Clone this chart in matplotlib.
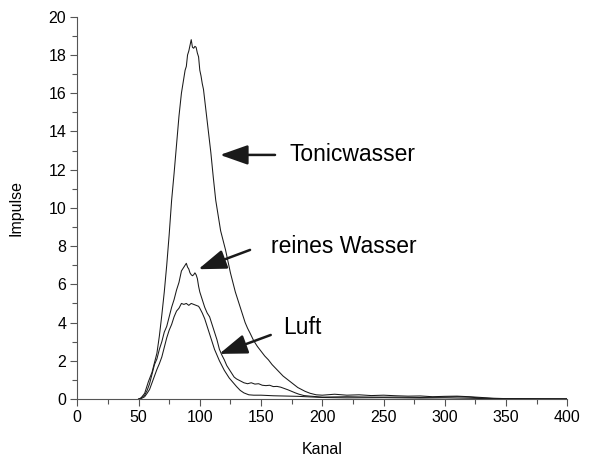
import matplotlib.pyplot as plt
from matplotlib.ticker import MultipleLocator

plt.rcParams['font.family'] = ['Liberation Sans', 'DejaVu Sans']

# Impulsspektren: Kanal -> Impulse
tonic_kanal = [50, 52, 55, 58, 61, 63, 65, 67, 69, 71, 73, 75, 77, 79, 81, 83, 85, 87,
               88, 89, 90, 91, 92, 93, 94, 95, 96, 97, 98, 99, 100, 101, 102, 103, 105,
               107, 109, 111, 113, 115, 117, 119, 121, 123, 125, 127, 129, 131, 133, 135,
               137, 139, 141, 144, 147, 150, 153, 156, 159, 162, 165, 168, 171, 174, 177,
               180, 183, 186, 190, 195, 200, 210, 220, 230, 240, 250, 260, 270, 280, 290,
               300, 310, 320, 330, 340, 350, 360, 380, 400]
tonic_impulse = [0, 0.05, 0.3, 0.9, 1.4, 1.9, 2.4, 3.3, 4.4, 5.6, 7.0, 8.6, 10.4, 11.8,
                 13.3, 14.8, 16.0, 16.8, 17.2, 17.4, 18.0, 18.2, 18.5, 18.8, 18.4, 18.35,
                 18.45, 18.4, 18.1, 17.9, 17.2, 16.9, 16.5, 16.2, 15.1, 14.0, 12.9, 11.6,
                 10.4, 9.6, 8.8, 8.3, 7.8, 7.2, 6.6, 6.1, 5.6, 5.2, 4.8, 4.4, 4.0, 3.7, 3.45,
                 3.05, 2.75, 2.5, 2.25, 2.05, 1.8, 1.6, 1.4, 1.2, 1.05, 0.9, 0.75, 0.6, 0.5,
                 0.4, 0.3, 0.22, 0.2, 0.25, 0.2, 0.22, 0.18, 0.2, 0.17, 0.15, 0.16, 0.12,
                 0.14, 0.15, 0.12, 0.08, 0.04, 0.02, 0.02, 0.01, 0.01]

wasser_kanal = [50, 52, 55, 57, 59, 61, 63, 65, 67, 69, 71, 73, 75, 77, 79, 81, 83, 85,
                87, 89, 90, 91, 92, 93, 94, 95, 96, 97, 98, 99, 100, 102, 104, 106, 108,
                110, 112, 114, 116, 118, 120, 122, 124, 126, 128, 130, 133, 136, 139, 142,
                145, 148, 151, 154, 157, 160, 163, 166, 169, 172, 175, 178, 181, 185, 190,
                200, 220, 240, 260, 280, 300, 310, 320, 330, 340, 360, 400]
wasser_impulse = [0, 0.05, 0.2, 0.45, 0.8, 1.3, 1.8, 2.1, 2.6, 3.0, 3.5, 3.8, 4.3,
                  4.8, 5.2, 5.7, 6.1, 6.7, 6.9, 7.1, 6.9, 6.8, 6.6, 6.5, 6.45, 6.5, 6.6,
                  6.5, 6.3, 5.9, 5.6, 5.2, 4.8, 4.5, 4.3, 3.9, 3.5, 3.1, 2.6, 2.3, 2.05,
                  1.75, 1.55, 1.35, 1.15, 1.05, 0.95, 0.85, 0.8, 0.85, 0.78, 0.8, 0.72,
                  0.7, 0.72, 0.65, 0.66, 0.62, 0.55, 0.48, 0.4, 0.32, 0.25, 0.18, 0.15,
                  0.1, 0.12, 0.1, 0.1, 0.08, 0.1, 0.12, 0.1, 0.05, 0.02, 0.01, 0]

luft_kanal = [51, 53, 55, 57, 59, 61, 63, 65, 67, 69, 71, 73, 75, 77, 79, 81, 83, 85,
              87, 89, 91, 93, 95, 97, 99, 100, 102, 104, 106, 108, 110, 112, 114, 116,
              118, 120, 122, 124, 126, 128, 130, 133, 136, 140, 144, 150, 160, 180, 200,
              220, 250, 280, 300, 320, 340, 400]
luft_impulse = [0, 0.05, 0.12, 0.3, 0.5, 0.85, 1.2, 1.55, 1.85, 2.2, 2.7, 3.2, 3.6,
                3.9, 4.3, 4.6, 4.75, 5.0, 4.95, 5.0, 4.9, 5.0, 4.95, 4.9, 4.85, 4.75,
                4.5, 4.2, 3.8, 3.4, 3.0, 2.6, 2.3, 2.0, 1.75, 1.5, 1.3, 1.1, 0.95, 0.8,
                0.65, 0.45, 0.32, 0.22, 0.2, 0.2, 0.17, 0.14, 0.08, 0.06, 0.07, 0.05,
                0.06, 0.04, 0.01, 0]

fig = plt.figure(figsize=(6.12, 4.58), dpi=100)
ax = fig.add_axes([0.1263, 0.1288, 0.8007, 0.8347])

for kanal, impulse in [(tonic_kanal, tonic_impulse),
                       (wasser_kanal, wasser_impulse),
                       (luft_kanal, luft_impulse)]:
    ax.plot(kanal, impulse, color='#1a1a1a', lw=0.75)

ax.set_xlim(0, 400)
ax.set_ylim(0, 20)
ax.xaxis.set_major_locator(MultipleLocator(50))
ax.xaxis.set_minor_locator(MultipleLocator(25))
ax.yaxis.set_major_locator(MultipleLocator(2))
ax.yaxis.set_minor_locator(MultipleLocator(1))
ax.spines['top'].set_visible(False)
ax.spines['right'].set_visible(False)
for s in ['left', 'bottom']:
    ax.spines[s].set_color('#555555')
    ax.spines[s].set_linewidth(0.8)
ax.tick_params(which='both', direction='out', color='#555555', width=0.8,
               labelsize=11.5, pad=3)
ax.tick_params(which='major', length=5)
ax.tick_params(which='minor', length=3.5)

ax.set_xlabel('Kanal', fontsize=11.5, labelpad=12)
ax.set_ylabel('Impulse', fontsize=11.5, labelpad=18)

pfeil = dict(arrowstyle='-|>,head_length=0.85,head_width=0.3', mutation_scale=20,
             lw=1.8, color='#1a1a1a', shrinkA=0, shrinkB=0)
ax.annotate('', xy=(116.5, 12.77), xytext=(161.4, 12.77), arrowprops=pfeil)
ax.text(173.6, 12.77, 'Tonicwasser', fontsize=16.5, va='center')
ax.annotate('', xy=(98.8, 6.79), xytext=(141, 7.8), arrowprops=pfeil)
ax.text(157.9, 7.96, 'reines Wasser', fontsize=16.5, va='center')
ax.annotate('', xy=(115.9, 2.36), xytext=(157.9, 3.35), arrowprops=pfeil)
ax.text(167.7, 3.72, 'Luft', fontsize=16.5, va='center')

fig.savefig('out.png', dpi=100)
